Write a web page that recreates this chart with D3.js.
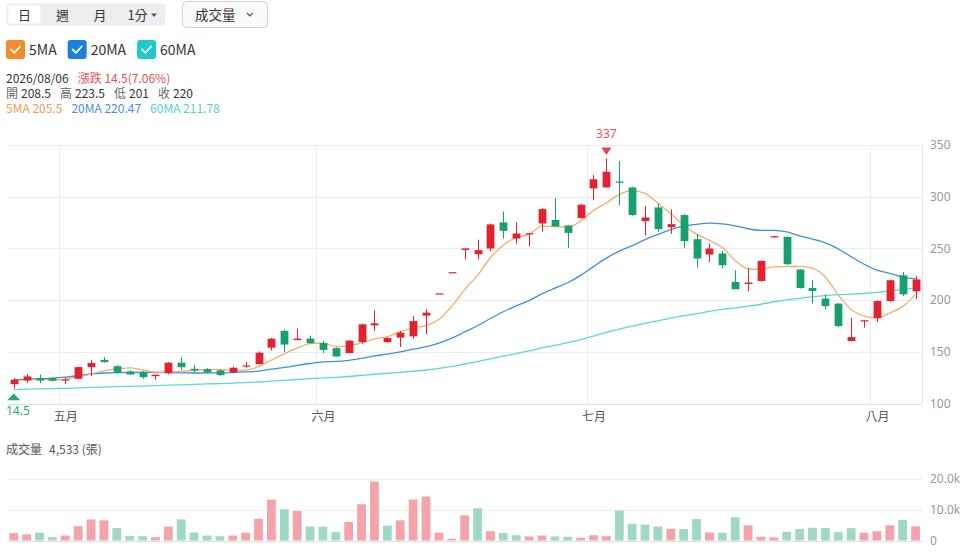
<!DOCTYPE html>
<html><head><meta charset="utf-8">
<script src="https://cdn.jsdelivr.net/npm/d3@7"></script>
<style>
html,body{margin:0;padding:0;background:#fff;}
svg{display:block;font-family:"Noto Sans CJK TC","Noto Sans",sans-serif;}
</style></head><body>
<svg id="c" width="976" height="559"></svg>
<script>
// ---------- DATA ----------
const lastDate = "2026/08/06";
const opens  = [118.7,122.3,124.5,124.5,122.3,123.9,135.2,142.2,136.1,131.0,130.3,126.5,129.4,139.5,133.6,133.2,132.0,130.0,135.9,138.1,154.0,170.3,161.3,162.8,158.4,153.6,148.7,159.4,175.6,159.4,163.7,164.9,185.0,206.5,227.0,248.5,244.4,249.9,275.1,259.6,263.5,274.1,277.6,272.2,279.3,308.0,309.0,314.8,309.0,276.4,289.6,270.5,282.2,258.9,244.1,245.1,217.5,215.6,218.5,260.6,261.1,229.6,211.7,201.5,196.6,160.4,179.5,182.7,199.1,224.0,208.5];
const highs  = [124.5,128.4,128.1,125.2,125.5,135.9,142.2,144.8,137.1,132.0,131.3,128.1,140.0,144.6,137.5,134.2,133.2,135.6,140.0,150.4,163.3,171.4,172.4,165.6,160.6,154.3,161.0,177.2,190.1,164.2,170.1,184.6,191.1,206.5,227.0,250.0,258.4,274.0,285.6,275.2,264.7,289.0,298.9,272.2,292.8,320.9,337,334.5,309.6,290.9,293.5,287.7,283.1,263.8,254.8,247.6,228.9,231.1,238.3,262.1,261.8,229.6,219.2,205.3,197.2,183.0,180.5,199.8,219.7,227.2,223.5];
const lows   = [114.5,120.1,119.7,121.3,118.7,123.4,126.6,139.4,128.8,127.4,123.9,123.0,128.1,132.7,130.3,129.4,126.8,129.4,134.6,137.5,151.4,149.7,161.3,157.9,148.7,144.9,148.5,157.9,170.1,158.8,154.6,162.7,166.9,206.5,227.0,239.5,239.5,247.3,259.6,254.6,252.1,266.2,271.0,250.5,278.8,296.7,309.0,291.9,281.6,262.5,266.0,264.1,250.5,231.5,236.9,230.5,210.5,208.5,217.7,260.3,234.0,211.1,196.6,191.1,173.9,160.4,173.4,178.8,198.4,204.0,201];
const closes = [123.0,126.2,122.3,122.0,123.3,135.2,139.1,140.0,130.0,128.1,125.5,127.8,139.4,135.1,132.0,130.3,127.4,134.6,136.8,149.1,162.7,157.0,162.7,158.4,151.8,145.5,160.8,176.6,177.5,163.3,168.5,179.7,187.9,206.5,227.0,250.0,248.3,273.2,267.0,264.4,264.7,288.0,271.2,265.0,292.3,316.8,324.1,313.5,282.2,279.9,268.6,273.5,257.0,240.2,249.9,233.7,210.5,217.0,237.9,261.8,234.7,211.7,208.8,194.3,174.9,164.2,180.5,199.1,219.2,205.5,220];
const volumes = [2400,2000,2500,1100,1600,4600,6800,6500,4000,1500,1400,1100,4500,6800,2600,1600,1400,1600,2500,7000,13200,10100,9500,4500,4500,2700,6000,11700,19000,4800,6500,13200,14200,2500,600,8100,10400,3000,2400,1700,1300,1600,1300,1200,900,1700,1400,9600,5400,5100,4500,3800,3700,6900,2600,2500,7500,4900,1200,1000,2800,3700,4100,4000,2700,4000,2500,3000,4900,6700,4533];
const ma5  = [122.3,122.6,123.0,123.1,123.4,125.8,128.4,131.9,133.5,134.5,132.5,130.3,130.2,131.2,132.0,132.9,132.8,131.9,132.2,135.6,142.1,148.0,153.7,158.0,158.5,155.1,155.8,158.6,162.4,164.7,169.3,173.1,175.4,181.2,193.9,210.2,223.9,241.0,253.1,260.6,263.5,271.5,271.1,270.7,276.2,286.7,293.9,302.3,305.8,303.3,293.7,283.5,272.2,263.8,257.8,250.9,238.3,230.3,229.8,232.2,232.4,232.6,231.0,222.3,204.9,190.8,184.5,182.6,187.6,193.7,205.5];
const ma20 = [123.0,123.5,124.0,124.5,125.5,127.0,128.6,129.5,129.9,130.0,130.2,130.0,129.8,129.6,129.5,129.5,129.6,129.9,130.5,131.4,133.3,134.9,136.9,138.7,140.2,140.7,141.8,143.6,146.0,147.7,149.9,152.5,154.9,158.5,163.2,169.2,175.2,182.2,188.7,194.4,199.5,206.1,211.5,216.8,223.9,232.4,240.6,247.4,252.7,258.5,263.5,268.2,271.7,273.3,274.5,273.7,271.8,269.0,267.5,267.4,265.9,262.1,259.0,255.4,249.6,241.9,234.7,229.0,225.9,222.2,220.47];
const ma60 = [113.5,113.8,114.1,114.4,114.7,115.1,115.5,115.9,116.3,116.6,116.9,117.3,117.7,118.1,118.5,118.9,119.3,119.7,120.2,120.8,121.6,122.4,123.2,124.0,124.7,125.3,126.1,127.2,128.3,129.2,130.1,131.2,132.4,134.0,135.9,138.2,140.5,143.2,145.8,148.3,150.8,153.7,156.3,158.8,161.8,165.2,168.7,172.0,174.8,177.5,180.0,182.6,184.9,186.9,189.1,191.0,192.5,194.1,196.0,198.4,200.3,201.7,203.2,204.4,205.2,205.7,206.4,207.4,208.9,210.2,211.78];
const monthStarts = [4, 24, 45, 67];
const monthLabels = ["五月","六月","七月","八月"];
const priceTicks = [100,150,200,250,300,350];
const volTicks = [0,10000,20000];
const periodTabs = ["日","週","月","1分"];
const minLabel = "14.5";

// ---------- SETUP ----------
const N = closes.length;
const svg = d3.select("#c");
const RED = "#e3222e", GREEN = "#17a06e";
const VRED = "#f4a3a8", VGREEN = "#9fd8c3";
const GRID = "#ebecf2";
const L = 7.3, R = 922;

const x = d3.scaleBand().domain(d3.range(N)).range([L, R]).padding(0);
const bw = x.bandwidth();
const cx = i => x(i) + bw / 2;
const xc = d3.scaleLinear().domain([0, N - 1]).range([cx(0), cx(N - 1)]);
const y = d3.scaleLinear().domain([100, 350]).range([403.5, 145]);
const yv = d3.scaleLinear().domain([0, 20000]).range([540.5, 478.5]);

// ---------- HEADER ----------
const hdr = svg.append("g");
hdr.append("rect").attr("x", 6.5).attr("y", 3.5).attr("width", 159).attr("height", 22).attr("rx", 3).attr("fill", "#eeeeee");
hdr.append("rect").attr("x", 8.5).attr("y", 5.5).attr("width", 32).attr("height", 18).attr("rx", 2).attr("fill", "#fff");
const tabX = [24.5, 62.5, 100, 137.5];
periodTabs.forEach((t, i) => {
  hdr.append("text").attr("x", tabX[i]).attr("y", 19.5).attr("text-anchor", "middle")
    .attr("font-size", 13).attr("fill", "#333").text(t);
});
hdr.append("path").attr("d", "M151,13.5 L157,13.5 L154,17 Z").attr("fill", "#555");
hdr.append("rect").attr("x", 182.5).attr("y", 1.5).attr("width", 85).attr("height", 26).attr("rx", 4)
  .attr("fill", "#fafafa").attr("stroke", "#d0d0d0");
hdr.append("text").attr("x", 195).attr("y", 20).attr("font-size", 13.5).attr("fill", "#333").text("成交量");
hdr.append("path").attr("d", "M247,13 L249.8,15.8 L252.6,13").attr("fill", "none").attr("stroke", "#555").attr("stroke-width", 1.2);

// ---------- LEGEND ----------
const legend = [
  {name: "5MA", color: "#f28b2b"},
  {name: "20MA", color: "#1b7fd9"},
  {name: "60MA", color: "#20c9c9"}
];
let lx = 6;
legend.forEach(d => {
  const g = svg.append("g");
  g.append("rect").attr("x", lx).attr("y", 40).attr("width", 19).attr("height", 19).attr("rx", 3).attr("fill", d.color);
  g.append("path").attr("d", `M${lx+5},${49.5} L${lx+8.3},${52.8} L${lx+14},${46.5}`)
    .attr("fill", "none").attr("stroke", "#fff").attr("stroke-width", 1.8).attr("stroke-linecap", "round").attr("stroke-linejoin", "round");
  const t = g.append("text").attr("x", lx + 23).attr("y", 54.5).attr("font-size", 14).attr("fill", "#333").text(d.name);
  lx = lx + 23 + t.node().getComputedTextLength() + 11;
});

// ---------- INFO LINES ----------
const li = N - 1;
function chain(items, yy, gap) {
  let px = 6;
  items.forEach(it => {
    const t = svg.append("text").attr("x", px).attr("y", yy).attr("font-size", 12).attr("fill", it.c).text(it.t);
    px += t.node().getComputedTextLength() + (it.g != null ? it.g : gap);
  });
}
const chg = +(closes[li] - closes[li - 1]).toFixed(2);
const pct = (chg / closes[li - 1] * 100).toFixed(2);
chain([{t: lastDate, c: "#333"}, {t: `漲跌 ${chg}(${pct}%)`, c: "#e8505b"}], 82.5, 9);
chain([
  {t: "開", c: "#666", g: 3}, {t: String(opens[li]), c: "#333"},
  {t: "高", c: "#666", g: 3}, {t: String(highs[li]), c: "#333"},
  {t: "低", c: "#666", g: 3}, {t: String(lows[li]), c: "#333"},
  {t: "收", c: "#666", g: 3}, {t: String(closes[li]), c: "#333"}
], 97.5, 9);
chain([
  {t: `5MA ${ma5[li]}`, c: "#f39a52"},
  {t: `20MA ${ma20[li]}`, c: "#4a8fe0"},
  {t: `60MA ${ma60[li]}`, c: "#4fd1d1"}
], 112.5, 9);

// ---------- PRICE PANEL ----------
const pg = svg.append("g");
priceTicks.filter(v => v > 100).forEach(v => {
  pg.append("line").attr("x1", L).attr("x2", R).attr("y1", Math.round(y(v)) + 0.5).attr("y2", Math.round(y(v)) + 0.5)
    .attr("stroke", GRID);
});
monthStarts.forEach(i => {
  const xx = Math.round(x(i)) + 0.5;
  pg.append("line").attr("x1", xx).attr("x2", xx).attr("y1", y(350)).attr("y2", y(100)).attr("stroke", GRID);
});
pg.append("line").attr("x1", R + 0.5).attr("x2", R + 0.5).attr("y1", y(350)).attr("y2", y(100)).attr("stroke", "#e2e4ea");
pg.append("line").attr("x1", L).attr("x2", R).attr("y1", Math.round(y(100)) + 0.5).attr("y2", Math.round(y(100)) + 0.5).attr("stroke", "#dcdfe6");

const yAxis = d3.axisRight(y).tickValues(priceTicks).tickSize(0).tickPadding(8);
const ya = svg.append("g").attr("transform", `translate(${R},0)`).call(yAxis);
ya.select(".domain").remove();
ya.selectAll("text").attr("fill", "#999").attr("font-size", 12).attr("font-family", "'Noto Sans','Noto Sans CJK TC',sans-serif");

const xAxis = d3.axisBottom(xc).tickValues(monthStarts).tickSize(0).tickPadding(9)
  .tickFormat((d, i) => monthLabels[i]);
const xa = svg.append("g").attr("transform", `translate(0,${y(100)})`).call(xAxis);
xa.select(".domain").remove();
xa.selectAll("text").attr("fill", "#555").attr("font-size", 12).attr("font-family", "'Noto Sans CJK TC',sans-serif");

// MA lines
const lineOf = arr => d3.line().x((d, i) => cx(i)).y(d => y(d)).curve(d3.curveMonotoneX)(arr);
[[ma60, "#5cd6d6"], [ma20, "#3d8fe0"], [ma5, "#f7ad6a"]].forEach(([arr, col]) => {
  svg.append("path").attr("d", lineOf(arr)).attr("fill", "none").attr("stroke", col).attr("stroke-width", 1.3);
});

// Candles
const cg = svg.append("g");
d3.range(N).forEach(i => {
  const up = closes[i] >= opens[i];
  const col = up ? RED : GREEN;
  const xx = Math.round(cx(i)) + 0.5;
  cg.append("line").attr("x1", xx).attr("x2", xx).attr("y1", y(highs[i])).attr("y2", y(lows[i]))
    .attr("stroke", col).attr("stroke-width", 1);
  const top = y(Math.max(opens[i], closes[i]));
  const h = Math.max(1.2, Math.abs(y(opens[i]) - y(closes[i])));
  cg.append("rect").attr("x", xx - 3.9).attr("y", top).attr("width", 7.8).attr("height", h).attr("fill", col);
});

// max / min markers
const maxI = d3.maxIndex(highs), minI = d3.minIndex(lows);
const mxX = cx(maxI), mxY = y(highs[maxI]);
svg.append("path").attr("d", `M${mxX-5},${mxY-11} L${mxX+5},${mxY-11} L${mxX},${mxY-3.4} Z`).attr("fill", "#e8404e");
svg.append("text").attr("x", mxX).attr("y", mxY - 20).attr("text-anchor", "middle").attr("font-size", 12)
  .attr("fill", "#e8505b").attr("font-family", "'Noto Sans',sans-serif").text(String(highs[maxI]));
const mnX = cx(minI), mnY = y(lows[minI]);
svg.append("path").attr("d", `M${mnX-6.5},${mnY+11.7} L${mnX+6.5},${mnY+11.7} L${mnX},${mnY+5} Z`).attr("fill", "#2aa876");
svg.append("text").attr("x", 6).attr("y", mnY + 26).attr("font-size", 12).attr("fill", "#2aa876")
  .attr("font-family", "'Noto Sans',sans-serif").text(minLabel);

// ---------- VOLUME PANEL ----------
svg.append("text").attr("x", 6).attr("y", 453.5).attr("font-size", 12).attr("fill", "#555").text("成交量");
svg.append("text").attr("x", 49).attr("y", 453.5).attr("font-size", 12).attr("fill", "#555")
  .text(`${d3.format(",")(volumes[li])} (張)`);
volTicks.forEach(v => {
  svg.append("line").attr("x1", L).attr("x2", R).attr("y1", Math.round(yv(v)) + 0.5).attr("y2", Math.round(yv(v)) + 0.5)
    .attr("stroke", v === 0 ? "#dcdfe6" : GRID);
});
const vAxis = d3.axisRight(yv).tickValues(volTicks).tickSize(0).tickPadding(8)
  .tickFormat(d => d === 0 ? "0" : (d / 1000).toFixed(1) + "k");
const va = svg.append("g").attr("transform", `translate(${R},0)`).call(vAxis);
va.select(".domain").remove();
va.selectAll("text").attr("fill", "#999").attr("font-size", 12).attr("font-family", "'Noto Sans',sans-serif");

const vg = svg.append("g");
d3.range(N).forEach(i => {
  const up = i === 0 ? true : closes[i] >= closes[i - 1];
  vg.append("rect").attr("x", cx(i) - 4.4).attr("y", yv(volumes[i])).attr("width", 8.8)
    .attr("height", yv(0) - yv(volumes[i])).attr("fill", up ? VRED : VGREEN);
});
</script>
</body></html>
